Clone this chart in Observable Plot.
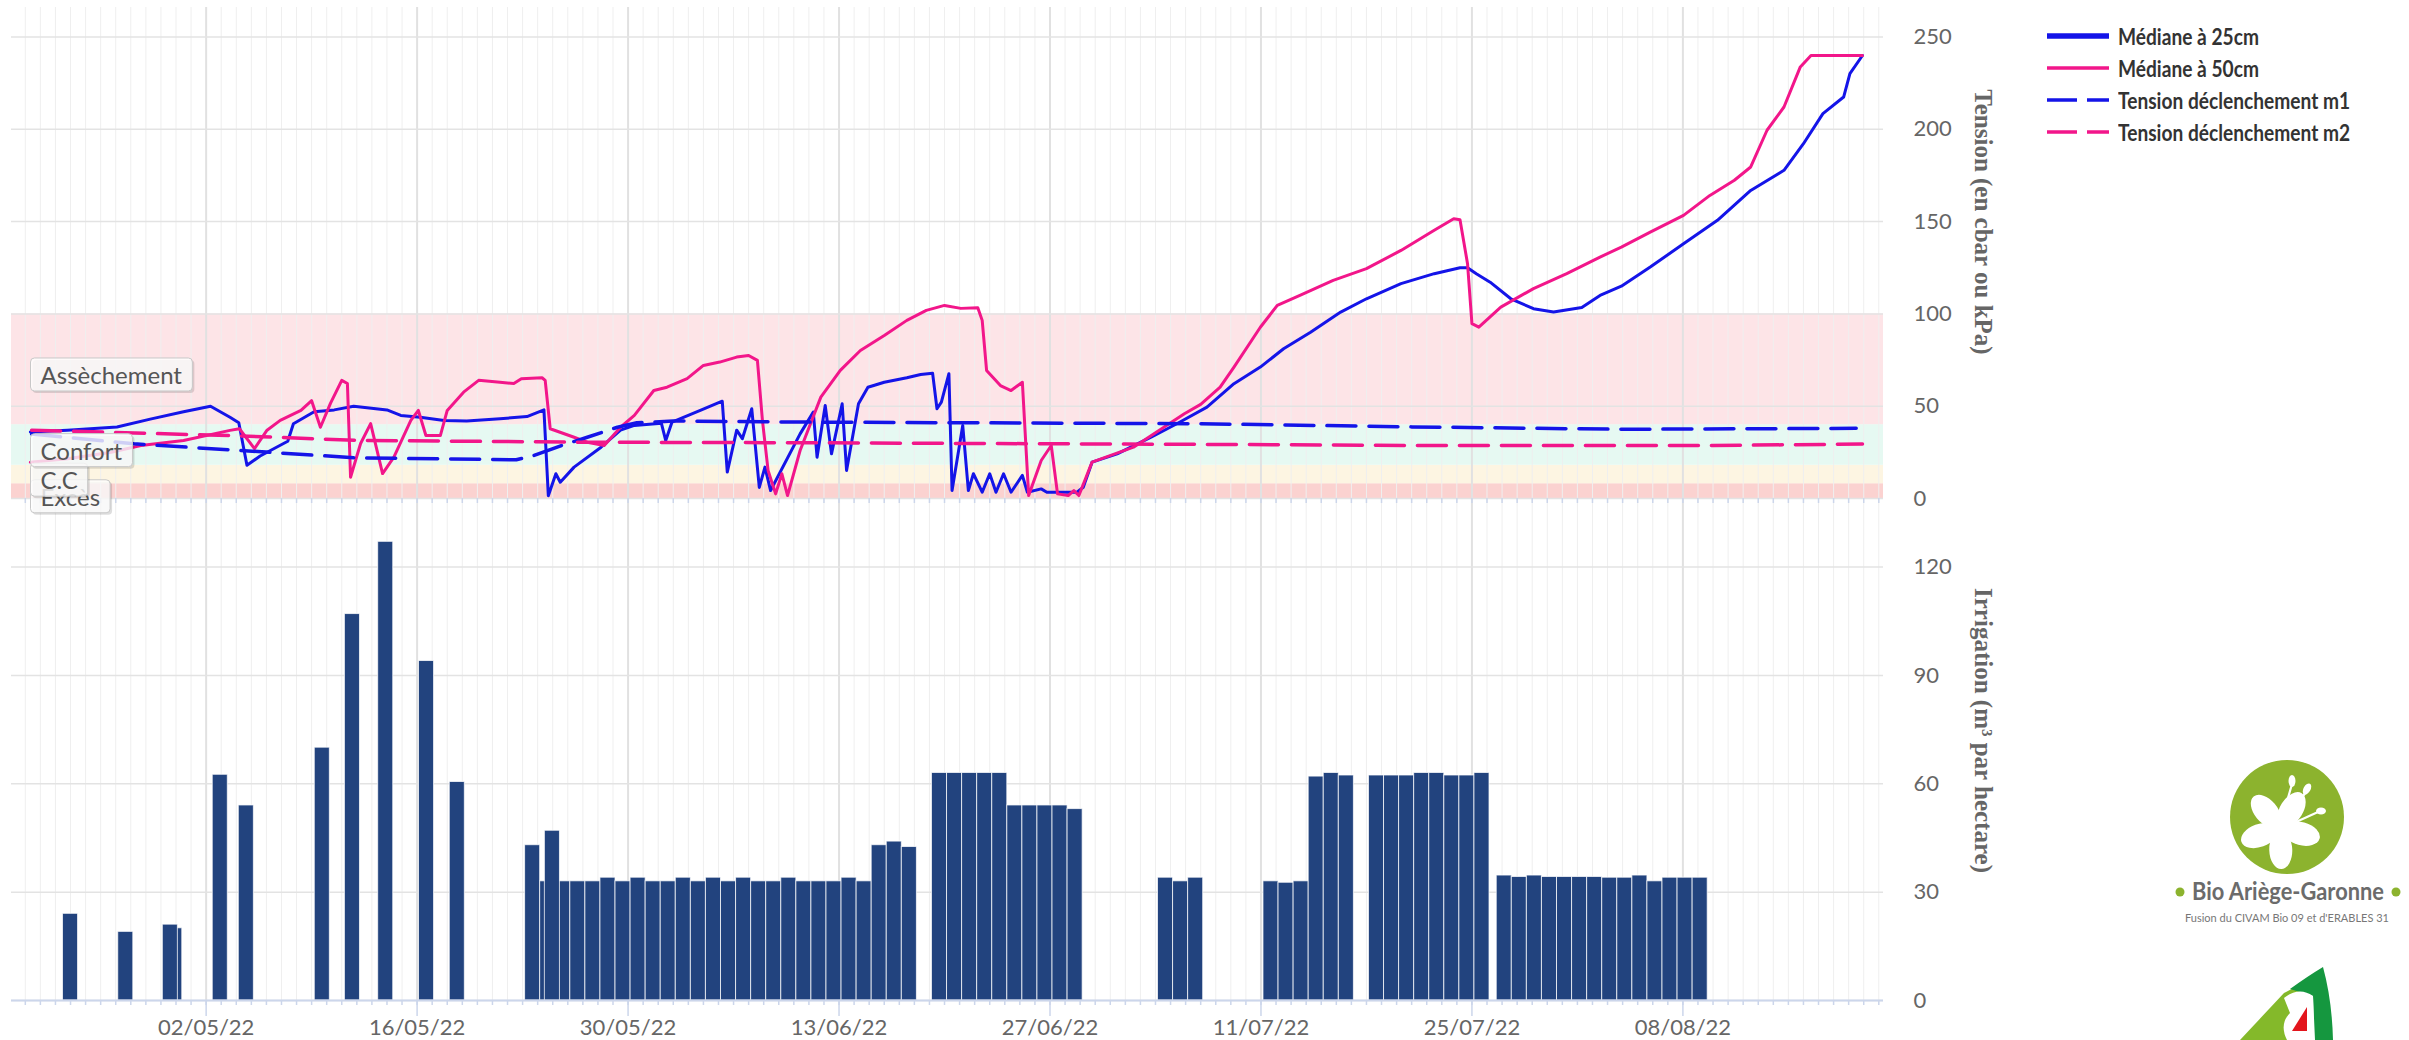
<!DOCTYPE html>
<html lang="fr">
<head>
<meta charset="utf-8">
<script src="https://cdn.jsdelivr.net/npm/d3@7"></script>
<script src="https://cdn.jsdelivr.net/npm/@observablehq/plot@0.6"></script>
<style>
html, body { margin:0; padding:0; background:#fff; }
#root { position:relative; width:2409px; height:1040px; overflow:hidden; font-family: Lato, "Open Sans", sans-serif; }
#root svg.panel { position:absolute; left:0; }
.legend-row { position:absolute; left:2046px; height:24px; display:flex; align-items:center; }
.legend-row span { display:inline-block; font: bold 22px Lato, "Open Sans", sans-serif; color:#333; margin-left:8px; white-space:nowrap; transform: scaleX(0.87); transform-origin: left center; }
#logos { position:absolute; left:2110px; top:740px; }
</style>
</head>
<body>
<div id="root"></div>
<script>
// ---------------- DATA ----------------
const seriesNames = ["Médiane à 25cm", "Médiane à 50cm", "Tension déclenchement m1", "Tension déclenchement m2"];
const tensionTicks = [0, 50, 100, 150, 200, 250];
const irrigationTicks = [0, 30, 60, 90, 120];
const majorTickDates = ["2022-05-02", "2022-05-16", "2022-05-30", "2022-06-13", "2022-06-27", "2022-07-11", "2022-07-25", "2022-08-08"];
const tensionTitle = "Tension (en cbar ou kPa)";
const irrigationTitle = "Irrigation (m³ par hectare)";

// zones (plot bands) : nom, bas, haut
const bandNames = ["Excès", "C.C", "Confort", "Assèchement"];
const bandLow = [0, 8, 18, 40];
const bandHigh = [8, 18, 40, 100];
const bandColors = ["#fbd2d0", "#fdf5e2", "#e6f9f2", "#fde4e7"];

const median25 = [
 ["2022-04-20T08:00",36],["2022-04-22T19:00",37],["2022-04-26T02:00",38.7],["2022-04-28T07:00",43],
 ["2022-04-30T12:00",47],["2022-05-02T07:00",50],["2022-05-03T14:00",44],["2022-05-04T04:00",41],
 ["2022-05-04T17:00",18],["2022-05-05T14:00",23],["2022-05-07T10:00",31],["2022-05-07T19:00",40.5],
 ["2022-05-09T04:00",47],["2022-05-10T12:00",48],["2022-05-11T19:00",50],["2022-05-14T00:00",48],
 ["2022-05-14T22:00",45],["2022-05-16T05:00",44],["2022-05-17T19:00",42.3],["2022-05-19T07:00",42],
 ["2022-05-21T12:00",43.2],["2022-05-23T07:00",44.4],["2022-05-24T10:00",48],["2022-05-24T17:00",1.5],
 ["2022-05-25T05:00",13.4],["2022-05-25T12:00",8.8],["2022-05-26T10:00",17],["2022-05-28T05:00",27.8],
 ["2022-05-29T12:00",37],["2022-05-30T10:00",39.6],["2022-06-01T05:00",40.8],["2022-06-01T12:00",31.4],
 ["2022-06-01T22:00",41.4],["2022-06-03T19:00",47.7],["2022-06-05T06:00",52.7],["2022-06-05T14:00",14.3],
 ["2022-06-06T05:00",37],["2022-06-06T14:00",32.4],["2022-06-07T05:00",48.6],["2022-06-07T17:00",6],
 ["2022-06-08T02:00",17],["2022-06-08T11:00",4.3],["2022-06-10T10:00",35],["2022-06-11T07:00",46.8],
 ["2022-06-11T13:00",22.4],["2022-06-12T02:00",50.4],["2022-06-12T12:00",24.2],["2022-06-13T05:00",51.3],
 ["2022-06-13T12:00",15.2],["2022-06-14T07:00",51.3],["2022-06-14T22:00",60.3],["2022-06-16T00:00",63],
 ["2022-06-17T12:00",65.4],["2022-06-18T10:00",67.2],["2022-06-19T05:00",67.9],["2022-06-19T12:00",48.6],
 ["2022-06-19T19:00",52.2],["2022-06-20T07:00",67.6],["2022-06-20T12:00",4.3],["2022-06-21T05:00",39.6],
 ["2022-06-21T14:00",4.3],["2022-06-21T22:00",13.4],["2022-06-22T12:00",3.4],["2022-06-23T00:00",13.4],
 ["2022-06-23T10:00",3.4],["2022-06-23T22:00",13.4],["2022-06-24T10:00",3.4],["2022-06-25T04:00",12.5],
 ["2022-06-25T12:00",3.4],["2022-06-26T10:00",5.2],["2022-06-26T19:00",3.4],["2022-06-28T19:00",3.4],
 ["2022-06-29T05:00",6.1],["2022-06-29T19:00",19.7],["2022-07-01T11:00",24.2],["2022-07-03T17:00",33.2],
 ["2022-07-05T10:00",40.5],["2022-07-07T10:00",49.5],["2022-07-09T05:00",62.2],["2022-07-10T23:00",71.2],
 ["2022-07-12T12:00",81.1],["2022-07-14T07:00",90.1],["2022-07-16T07:00",101],["2022-07-18T00:00",108.2],
 ["2022-07-20T07:00",116.4],["2022-07-22T12:00",121.8],["2022-07-24T05:00",125],["2022-07-24T17:00",125],
 ["2022-07-25T07:00",121.8],["2022-07-26T05:00",117.2],["2022-07-27T14:00",108.2],["2022-07-29T02:00",102.8],
 ["2022-07-30T10:00",101],["2022-08-01T07:00",103.5],["2022-08-02T12:00",110],["2022-08-03T22:00",115],
 ["2022-08-05T20:00",125.4],["2022-08-08T01:00",138],["2022-08-10T07:00",150.7],["2022-08-12T12:00",166.9],
 ["2022-08-14T17:00",177.8],["2022-08-16T00:00",192.2],["2022-08-17T07:00",208.5],["2022-08-18T16:00",217.5],
 ["2022-08-19T02:00",230.2],["2022-08-19T22:00",240]
];

const median50 = [
 ["2022-04-20T08:00",19.7],["2022-04-22T19:00",21.5],["2022-04-25T17:00",25.1],["2022-04-27T16:00",28.7],
 ["2022-04-30T12:00",31.4],["2022-05-03T14:00",36.9],["2022-05-04T05:00",37.8],["2022-05-05T05:00",27],
 ["2022-05-06T01:00",37],["2022-05-06T22:00",42.3],["2022-05-08T07:00",47.7],["2022-05-09T00:00",53],
 ["2022-05-09T14:00",38.6],["2022-05-10T06:00",51.5],["2022-05-11T00:00",64],["2022-05-11T09:00",62.3],
 ["2022-05-11T14:00",11.5],["2022-05-12T06:00",29.8],["2022-05-12T22:00",40.6],["2022-05-13T17:00",13.5],
 ["2022-05-14T11:00",22.4],["2022-05-15T14:00",42.3],["2022-05-16T02:00",47.7],["2022-05-16T14:00",34.1],
 ["2022-05-17T13:00",34.1],["2022-05-18T00:00",47.7],["2022-05-19T02:00",57.6],["2022-05-20T02:00",64],
 ["2022-05-21T12:00",63],["2022-05-22T10:00",62.3],["2022-05-22T22:00",64.9],["2022-05-24T07:00",65.4],
 ["2022-05-24T12:00",64],["2022-05-24T20:00",37.8],["2022-05-26T10:00",33.2],["2022-05-27T07:00",30.5],
 ["2022-05-28T10:00",28.7],["2022-05-29T12:00",38.6],["2022-05-30T10:00",45],["2022-05-31T17:00",58.5],
 ["2022-06-01T14:00",60.3],["2022-06-02T22:00",64.9],["2022-06-04T00:00",72.1],["2022-06-05T02:00",73.9],
 ["2022-06-06T05:00",76.6],["2022-06-07T00:00",77.5],["2022-06-07T14:00",74.8],["2022-06-07T22:00",42.3],
 ["2022-06-08T07:00",15.2],["2022-06-08T19:00",2.5],["2022-06-09T05:00",13.4],["2022-06-09T14:00",1.6],
 ["2022-06-10T10:00",26],["2022-06-11T19:00",54.9],["2022-06-13T02:00",69.4],["2022-06-14T10:00",80.2],
 ["2022-06-16T00:00",88.3],["2022-06-17T12:00",96.5],["2022-06-18T19:00",101.9],["2022-06-20T00:00",104.6],
 ["2022-06-21T02:00",103],["2022-06-22T05:00",103.4],["2022-06-22T12:00",96.5],["2022-06-22T19:00",69.4],
 ["2022-06-23T17:00",61.2],["2022-06-24T10:00",58.5],["2022-06-25T04:00",63],["2022-06-25T14:00",1.6],
 ["2022-06-26T10:00",20.6],["2022-06-27T02:00",28.7],["2022-06-27T12:00",2.5],["2022-06-28T05:00",1.6],
 ["2022-06-28T14:00",4.3],["2022-06-28T22:00",1.6],["2022-06-29T19:00",19.7],["2022-07-02T13:00",27.8],
 ["2022-07-05T22:00",45.9],["2022-07-07T00:00",51],["2022-07-08T07:00",60.3],["2022-07-09T05:00",71.2],
 ["2022-07-10T23:00",92.8],["2022-07-12T02:00",104.6],["2022-07-13T14:00",110],["2022-07-15T19:00",118.2],
 ["2022-07-18T00:00",124.5],["2022-07-20T07:00",134.4],["2022-07-22T12:00",145.3],["2022-07-23T19:00",151.6],
 ["2022-07-24T05:00",151],["2022-07-24T17:00",127.2],["2022-07-25T00:00",94.7],["2022-07-25T11:00",92.8],
 ["2022-07-26T22:00",103.7],["2022-07-29T02:00",113.7],["2022-07-31T07:00",121.8],["2022-08-02T12:00",130.8],
 ["2022-08-03T22:00",136.2],["2022-08-05T20:00",144.3],["2022-08-08T01:00",153.4],["2022-08-09T19:00",164.2],
 ["2022-08-11T10:00",172.4],["2022-08-12T12:00",179.6],["2022-08-13T14:00",199.5],["2022-08-14T17:00",212.1],
 ["2022-08-15T19:00",233.8],["2022-08-16T12:00",240],["2022-08-19T22:00",240]
];

const triggerM1 = [
 ["2022-04-20T10:00",35],["2022-04-27T05:00",29.6],["2022-05-04T07:00",26],["2022-05-12T00:00",22],
 ["2022-05-22T14:00",21],["2022-05-23T18:00",23.3],["2022-05-25T14:00",28.7],["2022-05-27T07:00",33.2],
 ["2022-05-29T07:00",38.6],["2022-05-30T14:00",41],["2022-06-02T00:00",42],["2022-06-10T10:00",41.4],
 ["2022-07-07T00:00",40.5],["2022-07-21T00:00",38.8],["2022-08-04T00:00",37.5],["2022-08-19T12:00",38]
];

const triggerM2 = [
 ["2022-04-20T10:00",37],["2022-05-04T00:00",34],["2022-05-12T00:00",31.5],["2022-05-27T00:00",30.5],
 ["2022-06-10T10:00",30.2],["2022-07-08T00:00",29.3],["2022-07-21T00:00",28.7],["2022-08-10T00:00",28.7],
 ["2022-08-19T22:00",29.5]
];

// irrigation : début de la barre (1 jour), m3/ha
const irrigation = [
 ["2022-04-22T12:00",24],["2022-04-26T04:00",19],["2022-04-29T10:00",20],["2022-04-29T03:00",21],
 ["2022-05-02T10:30",62.5],["2022-05-04T04:00",54],["2022-05-09T05:00",70],["2022-05-11T05:00",107],
 ["2022-05-13T10:00",127],["2022-05-16T03:00",94],["2022-05-18T04:00",60.5],
 ["2022-05-23T04:00",43],["2022-05-24T04:00",33],["2022-05-25T04:00",33],["2022-05-26T04:00",33],
 ["2022-05-27T04:00",33],["2022-05-28T04:00",34],["2022-05-29T04:00",33],["2022-05-30T04:00",34],
 ["2022-05-31T04:00",33],["2022-06-01T04:00",33],["2022-06-02T04:00",34],["2022-06-03T04:00",33],
 ["2022-06-04T04:00",34],["2022-06-05T04:00",33],["2022-06-06T04:00",34],["2022-06-07T04:00",33],
 ["2022-06-08T04:00",33],["2022-06-09T04:00",34],["2022-06-10T04:00",33],["2022-06-11T04:00",33],
 ["2022-06-12T04:00",33],["2022-06-13T04:00",34],["2022-06-14T04:00",33],["2022-06-15T04:00",43],
 ["2022-06-16T04:00",44],["2022-06-17T04:00",42.5],
 ["2022-06-19T04:00",63],["2022-06-20T04:00",63],["2022-06-21T04:00",63],["2022-06-22T04:00",63],
 ["2022-06-23T04:00",63],["2022-06-24T04:00",54],["2022-06-25T04:00",54],["2022-06-26T04:00",54],
 ["2022-06-27T04:00",54],["2022-06-28T04:00",53],
 ["2022-07-04T04:00",34],["2022-07-05T04:00",33],["2022-07-06T04:00",34],
 ["2022-07-11T04:00",33],["2022-07-12T04:00",32.6],["2022-07-13T04:00",33],["2022-07-14T04:00",62],
 ["2022-07-15T04:00",63],["2022-07-16T04:00",62.3],
 ["2022-07-18T04:00",62.3],["2022-07-19T04:00",62.3],["2022-07-20T04:00",62.3],["2022-07-21T04:00",63],
 ["2022-07-22T04:00",63],["2022-07-23T04:00",62.3],["2022-07-24T04:00",62.3],["2022-07-25T04:00",63],
 ["2022-07-26T15:30",34.6],["2022-07-27T15:30",34.2],["2022-07-28T15:30",34.6],["2022-07-29T15:30",34.2],
 ["2022-07-30T15:30",34.2],["2022-07-31T15:30",34.2],["2022-08-01T15:30",34.2],["2022-08-02T15:30",34],
 ["2022-08-03T15:30",34],["2022-08-04T15:30",34.6],["2022-08-05T15:30",33],["2022-08-06T15:30",34],
 ["2022-08-07T15:30",34],["2022-08-08T15:30",34],
 ["2022-05-24T11:30",47]
];

// ---------------- RENDER ----------------
const BLUE = "#1414e8", PINK = "#f2168a", BAR = "#22437e";
const W = 2409;
const P = s => new Date(s + "Z");
const X0 = P("2022-04-19T02:00"), X1 = P("2022-08-21T07:30");
const pts = arr => arr.map(([t, v]) => ({t: P(t), v}));
const days = d3.utcDay.range(P("2022-04-19T00:00"), X1).filter(d => d >= X0);
const majors = majorTickDates.map(s => P(s + "T00:00"));
const fmt = d3.utcFormat("%d/%m/%y");
const bands = bandNames.map((name, i) => ({name, y1: bandLow[i], y2: bandHigh[i], color: bandColors[i]}));
const FONT = "Lato, 'Open Sans', sans-serif";
const SERIF = "'Liberation Serif', 'DejaVu Serif', serif";

const gridMarks = [
  Plot.ruleX(days, {stroke: "#efefef", strokeWidth: 1}),
  Plot.ruleX(majors, {stroke: "#e1e1e1", strokeWidth: 2})
];

const topPlot = Plot.plot({
  width: W, height: 506,
  marginLeft: 11, marginRight: 526, marginTop: 7, marginBottom: 8,
  style: {background: "transparent", overflow: "visible", fontFamily: FONT},
  x: {type: "utc", domain: [X0, X1]},
  y: {domain: [0, 266]},
  marks: [
    ...bands.map(b => Plot.rectY([b], {x1: () => X0, x2: () => X1, y1: "y1", y2: "y2", fill: b.color})),
    ...gridMarks,
    Plot.ruleY(tensionTicks, {stroke: "#e3e3e3", strokeWidth: 1.5}),
    Plot.line(pts(median25), {x: "t", y: "v", stroke: BLUE, strokeWidth: 3, strokeLinejoin: "round"}),
    Plot.line(pts(median50), {x: "t", y: "v", stroke: PINK, strokeWidth: 3, strokeLinejoin: "round"}),
    Plot.line(pts(triggerM1), {x: "t", y: "v", stroke: BLUE, strokeWidth: 3.5, strokeDasharray: "29,13"}),
    Plot.line(pts(triggerM2), {x: "t", y: "v", stroke: PINK, strokeWidth: 3.5, strokeDasharray: "29,13"}),
    Plot.axisX(days, {anchor: "bottom", tickSize: 5, tickFormat: () => "", stroke: "#ccd6eb", strokeWidth: 1.5, label: null}),
    Plot.axisY(tensionTicks, {anchor: "right", tickSize: 0, tickPadding: 30, fontSize: 22, color: "#666", label: null}),
    Plot.text(bands, {x: () => X0, y: d => (d.y1 + d.y2) / 2, text: "name", textAnchor: "start",
      dx: 29, dy: 7, fontSize: 24, fill: "#555"}),
    Plot.text([tensionTitle], {frameAnchor: "right", textAnchor: "middle", rotate: 90, dx: 99, dy: -31, fontSize: 25,
      fontFamily: SERIF, fontWeight: "bold", fill: "#666"})
  ]
});

const bottomPlot = Plot.plot({
  width: W, height: 542,
  marginLeft: 11, marginRight: 526, marginTop: 0, marginBottom: 40,
  style: {background: "transparent", overflow: "visible", fontFamily: FONT},
  x: {type: "utc", domain: [X0, X1]},
  y: {domain: [0, 139]},
  marks: [
    ...gridMarks,
    Plot.ruleY(irrigationTicks, {stroke: "#e3e3e3", strokeWidth: 1.5}),
    Plot.rectY(pts(irrigation), {x1: "t", x2: d => new Date(+d.t + 864e5), y1: () => 0, y2: "v",
      fill: BAR, stroke: "#ffffff", strokeOpacity: 0.75, strokeWidth: 1}),
    Plot.ruleY([0], {stroke: "#ccd6eb", strokeWidth: 2}),
    Plot.axisX(days, {anchor: "bottom", tickSize: 5, tickFormat: () => "", stroke: "#ccd6eb", strokeWidth: 1.5, label: null}),
    Plot.axisX(majors, {anchor: "bottom", tickSize: 16, tickPadding: 3, tickFormat: fmt, fontSize: 22,
      stroke: "#ccd6eb", strokeWidth: 1.5, fill: "#666", label: null}),
    Plot.axisY(irrigationTicks, {anchor: "right", tickSize: 0, tickPadding: 30, fontSize: 22, color: "#666", label: null}),
    Plot.text([irrigationTitle], {frameAnchor: "right", textAnchor: "middle", rotate: 90, dx: 99, dy: -19, fontSize: 25,
      fontFamily: SERIF, fontWeight: "bold", fill: "#666"})
  ]
});

const root = document.getElementById("root");
bottomPlot.classList.add("panel"); bottomPlot.style.top = "498px";
topPlot.classList.add("panel"); topPlot.style.top = "0px";
root.append(bottomPlot, topPlot);

// boxes behind the band labels
const NS = "http://www.w3.org/2000/svg";
Array.from(topPlot.querySelectorAll("text"))
  .filter(t => bandNames.includes(t.textContent))
  .forEach(t => {
    const b = t.getBBox();
    const tr = t.getAttribute("transform");
    const mk = (dx, dy, attrs) => {
      const r = document.createElementNS(NS, "rect");
      r.setAttribute("x", b.x - 10 + dx); r.setAttribute("y", b.y - 2 + dy);
      r.setAttribute("width", b.width + 20); r.setAttribute("height", b.height + 4);
      r.setAttribute("rx", 4);
      if (tr) r.setAttribute("transform", tr);
      for (const k in attrs) r.setAttribute(k, attrs[k]);
      t.parentNode.insertBefore(r, t);
    };
    mk(2, 2, {fill: "rgba(0,0,0,0.13)"});
    mk(0, 0, {fill: "rgba(255,255,255,0.8)", stroke: "#c8c8c8", "stroke-width": 1});
  });

// legend
const legendY = [36, 68, 100, 132];
const legendStyle = [
  {c: BLUE, w: 5.5, dash: null}, {c: PINK, w: 3.5, dash: null},
  {c: BLUE, w: 3.5, dash: "30,10"}, {c: PINK, w: 3.5, dash: "30,10"}
];
seriesNames.forEach((name, i) => {
  const row = document.createElement("div");
  row.className = "legend-row";
  row.style.top = (legendY[i] - 12) + "px";
  const s = legendStyle[i];
  row.innerHTML = `<svg width="64" height="14"><line x1="1" x2="63" y1="7" y2="7" stroke="${s.c}" stroke-width="${s.w}" ${s.dash ? `stroke-dasharray="${s.dash}"` : ""}/></svg><span>${name}</span>`;
  root.append(row);
});

// logos
const logos = document.createElement("div");
logos.id = "logos";
const petals = [-110, -40, 32, 105, 178].map(a =>
  `<ellipse cx="0" cy="-22" rx="11.5" ry="19" fill="#fff" transform="translate(2280,828) rotate(${a})"/>`).join("");
logos.innerHTML = `
<svg width="299" height="300" viewBox="2110 740 299 300">
  <circle cx="2287" cy="817" r="57" fill="#8cb32e"/>
  ${petals}
  <circle cx="2280" cy="828" r="7" fill="#fff"/>
  <path d="M2284 812 L2292 784 M2290 814 L2306 792 M2296 822 L2318 812" stroke="#fff" stroke-width="2.2" fill="none"/>
  <ellipse cx="2292" cy="781" rx="3.5" ry="6" fill="#fff"/>
  <ellipse cx="2307" cy="789" rx="3.5" ry="6" fill="#fff" transform="rotate(30 2307 789)"/>
  <ellipse cx="2321" cy="811" rx="5" ry="3.5" fill="#fff"/>
  <circle cx="2180" cy="892" r="4.5" fill="#8cb32e"/>
  <circle cx="2396" cy="892" r="4.5" fill="#8cb32e"/>
  <text x="2288" y="900" text-anchor="middle" font-family="Lato, sans-serif" font-weight="bold" font-size="24"
        fill="#6b6b6b" textLength="192" lengthAdjust="spacingAndGlyphs">Bio Ariège-Garonne</text>
  <text x="2287" y="922" text-anchor="middle" font-family="Lato, sans-serif" font-size="11"
        fill="#777">Fusion du CIVAM Bio 09 et d'ERABLES 31</text>
  <path d="M2240 1040 L2284 993 L2301 984 L2307 1040 Z" fill="#84b92a"/>
  <path d="M2290 989 Q2308 976 2323 967 Q2332 1000 2333 1040 L2315 1040 L2313 996 Z" fill="#15973f"/>
  <path d="M2284 998 Q2299 986 2313 996 L2314 1040 L2287 1040 Q2279 1024 2290 1013 Z" fill="#fff"/>
  <path d="M2292 1031 L2307 1007 L2307 1031 Z" fill="#e3151c"/>
</svg>`;
root.append(logos);
</script>
</body>
</html>
